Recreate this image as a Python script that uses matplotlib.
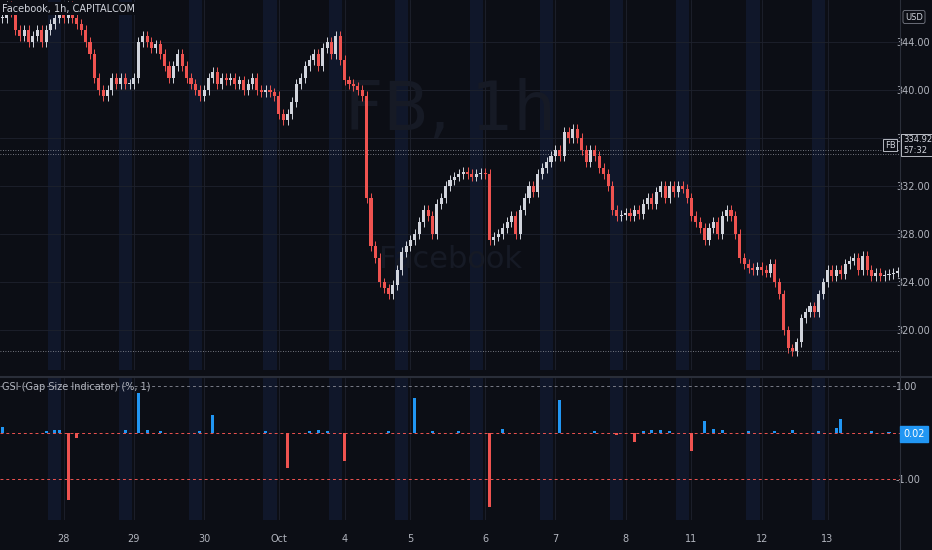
import matplotlib
matplotlib.use("Agg")
import matplotlib.pyplot as plt
from matplotlib.patches import Rectangle

closes = [346,347,346.5,345,344.5,345,344,344.5,345,344,
 345,345.5,346,346.5,346,347,346,345.5,345,344,
 343,341,340,339.5,340,341,340.5,341,340.5,340.5,
 341,344,344.5,344,343.5,343.8,343,342,341,342,
 343,342,341,340.5,340,339.5,340,341,341.5,340.5,
 341,340.8,341,340.5,340.8,340,340.5,341,340,339.8,
 340,339.8,339.5,338,337.5,338,339,340.5,341,342,
 342.5,343,342,343.5,344,343,344.5,342.5,340.8,340.5,
 340.3,340,339.5,331,327,326,324,323.5,323,323.8,
 325,326.5,327,327.5,328,329,330,329.5,328,330.5,
 331,332,332.5,332.8,333,333.2,333,332.8,333,333.1,
 333,327.5,327.8,328,328.5,329,329.5,328,330,331,
 332,331.5,333,333.5,334,334.5,335,334.5,336.5,336,
 336.8,336,335,334,335,334.5,333.5,333,332,330,
 329.5,329.6,329.8,329.5,330,329.7,330.5,331,330.5,331.5,
 332,331,332,331.5,332,331.8,331,329.5,329,328.5,
 327.5,328.5,329,328,329.5,330,329.5,328,326,325.5,
 325.2,325,325.3,325,324.8,325.5,324,323,320,318.5,
 318.3,319,321,321.5,322,321.5,323,324,325,324.5,
 325,324.7,325.5,325.8,326,325,326.2,325,324.5,324.8,
 324.5,324.6,324.7,324.8,324.9]
day_labels = ["28","29","30","Oct","4","5","6","7","8","11","12","13"]
day_index = [14,30,46,63,78,93,110,126,142,157,173,188]
gsi_points = [(0,0.12),(10,0.04),(12,0.05),(13,0.06),(15,-1.45),(17,-0.12),(28,0.05),(31,0.85),(33,0.05),(36,0.03),
 (45,0.04),(48,0.38),(60,0.03),(65,-0.75),(70,0.04),(72,0.05),(74,0.04),(78,-0.6),(88,0.04),(94,0.75),
 (98,0.03),(104,0.04),(111,-1.6),(114,0.08),(127,0.7),(135,0.03),(140,-0.05),(144,-0.2),(146,0.04),(148,0.05),
 (150,0.06),(152,0.04),(157,-0.4),(160,0.25),(162,0.08),(164,0.05),(170,0.04),(176,0.03),(180,0.05),(186,0.03),
 (190,0.05),(190,0.1),(191,0.3),(198,0.03),(202,0.02)]

BG = "#0c0e15"
UP = "#d1d4dc"
DN = "#ef5350"
BL = "#2196f3"
GRID = "#1e222d"

fig = plt.figure(figsize=(9.32, 5.5), dpi=100, facecolor=BG)
ax = fig.add_axes([0, 180/550, 900/932, 370/550], facecolor=BG)
ax2 = fig.add_axes([0, 30/550, 900/932, 142/550], facecolor=BG, sharex=ax)

n = len(closes)
opens = [closes[0]] + closes[:-1]
for a in (ax, ax2):
    for d in day_index:
        a.axvspan(d - 3.5, d - 0.5, color="#10172a", zorder=0, lw=0)
        a.axvline(d, color=GRID, lw=0.6, zorder=0)
for i in range(n):
    o, c = opens[i], closes[i]
    col = UP if c >= o else DN
    hi = max(o, c) + 0.4
    lo = min(o, c) - 0.4
    ax.vlines(i, lo, hi, color=col, lw=0.7, zorder=2)
    ax.add_patch(Rectangle((i - 0.35, min(o, c)), 0.7, max(abs(c - o), 0.08), color=col, zorder=3, lw=0))
ax.set_xlim(-0.5, 204.5)
ax.set_ylim(316.7, 347.5)
for y in range(320, 347, 4):
    ax.axhline(y, color=GRID, lw=0.6, zorder=0)
ax.axhline(335.0, color="#9598a1", lw=0.6, ls=(0, (1, 2)))
ax.axhline(334.7, color="#9598a1", lw=0.6, ls=(0, (1, 2)))
ax.axhline(318.3, color="#9598a1", lw=0.6, ls=(0, (1, 2)))
ax.yaxis.tick_right()
ax.set_yticks(range(320, 347, 4))
ax.set_yticklabels([f"{v:.2f}" for v in range(320, 347, 4)])
ax.tick_params(axis="y", colors="#b2b5be", labelsize=7, length=0, pad=-3)
ax.tick_params(axis="x", bottom=False, labelbottom=False)
ax.text(0.5, 0.70, "FB, 1h", transform=ax.transAxes, ha="center", va="center", fontsize=48, color="#161a25", zorder=1)
ax.text(0.5, 0.30, "Facebook", transform=ax.transAxes, ha="center", va="center", fontsize=22, color="#161a25", zorder=1)
ax.text(0.002, 0.99, "Facebook, 1h, CAPITALCOM", transform=ax.transAxes, fontsize=7, color="#d1d4dc", va="top",
        bbox=dict(boxstyle="square,pad=0.15", fc=BG, ec="none"), zorder=5)
fig.text(903/932, 1 - 145/550, "334.92\n57:32", fontsize=6, color="#d1d4dc", ha="left", va="center",
         bbox=dict(boxstyle="square,pad=0.2", fc=BG, ec="#d1d4dc", lw=0.6), zorder=6)
fig.text(890/932, 1 - 145/550, "FB", fontsize=6, color="#d1d4dc", ha="center", va="center",
         bbox=dict(boxstyle="square,pad=0.2", fc=BG, ec="#d1d4dc", lw=0.6), zorder=6)
fig.text(914/932, 1 - 17/550, "USD", fontsize=6, color="#d1d4dc", ha="center", va="center",
         bbox=dict(boxstyle="round,pad=0.25", fc=BG, ec="#787b86", lw=0.6))
for s in ax.spines.values():
    s.set_visible(False)

idx = [p[0] for p in gsi_points]
vals = [p[1] for p in gsi_points]
ax2.bar(idx, vals, width=0.7, color=[BL if v >= 0 else DN for v in vals], zorder=3)
ax2.axhline(1, color="#787b86", lw=0.7, ls=(0, (3, 3)))
ax2.axhline(-1, color=DN, lw=0.7, ls=(0, (3, 3)))
ax2.axhline(0, color=DN, lw=0.7, ls=(0, (3, 3)))
ax2.set_ylim(-1.87, 1.17)
ax2.yaxis.tick_right()
ax2.set_yticks([1, -1])
ax2.set_yticklabels(["1.00", "-1.00"])
ax2.tick_params(axis="y", colors="#b2b5be", labelsize=7, length=0, pad=-3)
ax2.text(0.002, 0.97, "GSI (Gap Size Indicator) (%, 1)", transform=ax2.transAxes, fontsize=7, color="#b2b5be", va="top")
fig.text(914/932, 1 - 434/550, "0.02", fontsize=7, color="white", ha="center", va="center",
         bbox=dict(boxstyle="square,pad=0.3", fc=BL, ec=BL))
ax2.set_xticks(day_index)
ax2.set_xticklabels(day_labels)
ax2.tick_params(axis="x", colors="#b2b5be", labelsize=7, length=0, pad=10)
for s in ax2.spines.values():
    s.set_visible(False)
fig.add_artist(plt.Line2D([0, 1], [1 - 377/550] * 2, color="#2a2e39", lw=1.5))
fig.add_artist(plt.Line2D([900/932] * 2, [0, 1], color="#2a2e39", lw=0.8))
fig.savefig("out.png", dpi=100, facecolor=BG)
